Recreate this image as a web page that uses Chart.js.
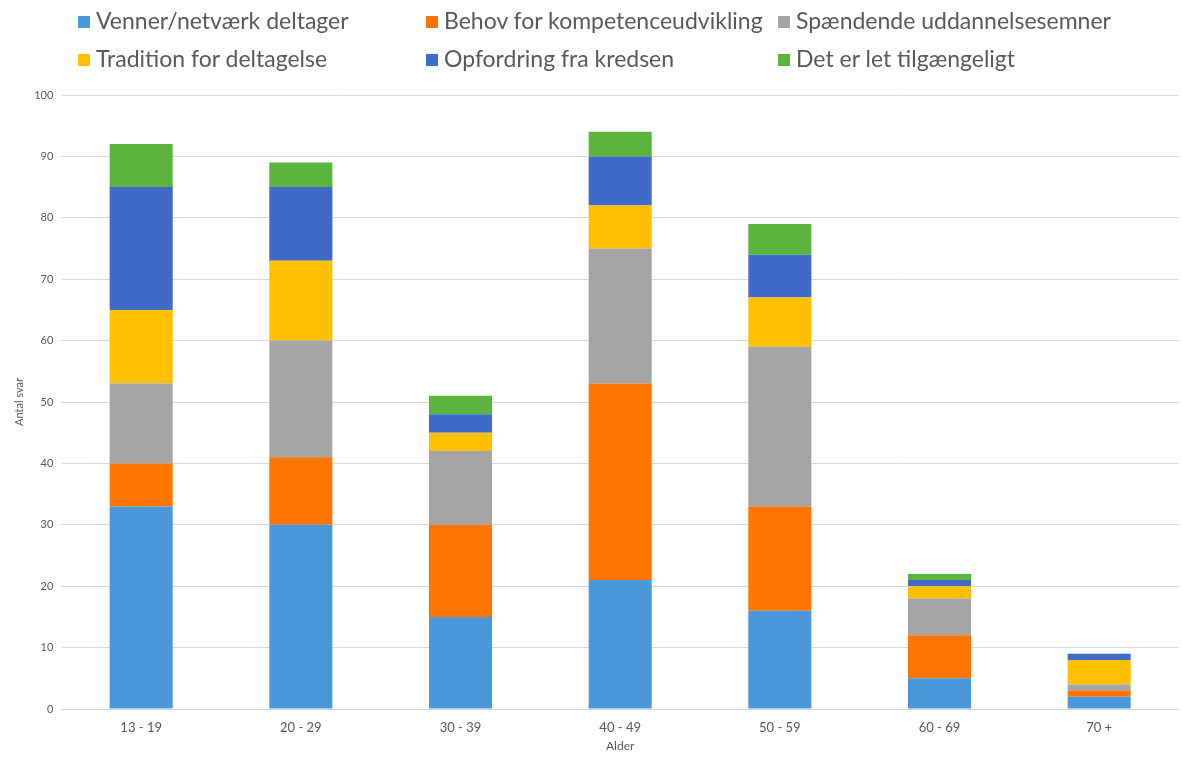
<!DOCTYPE html>
<html>
<head>
<meta charset="utf-8">
<script src="https://cdn.jsdelivr.net/npm/chart.js@4/dist/chart.umd.min.js"></script>
<style>
  html, body { margin: 0; padding: 0; background: #fff; }
  #wrap { position: relative; width: 1182px; height: 758px; }
  #legend { position: absolute; left: 0; top: 0; width: 1182px; height: 80px; font-family: Lato, sans-serif; font-size: 23px; color: #595959; }
  .item { position: absolute; white-space: nowrap; line-height: 24px; }
  .box { display: inline-block; width: 12px; height: 12px; margin-right: 6px; vertical-align: 1px; }
</style>
</head>
<body>
<div id="wrap">
  <canvas id="chart" width="1182" height="758"></canvas>
  <div id="legend"></div>
</div>
<script>
// ***** Data *****
const ageGroups = ['13 - 19', '20 - 29', '30 - 39', '40 - 49', '50 - 59', '60 - 69', '70 +'];
const seriesNames = [
  'Venner/netværk deltager',
  'Behov for kompetenceudvikling',
  'Spændende uddannelsesemner',
  'Tradition for deltagelse',
  'Opfordring fra kredsen',
  'Det er let tilgængeligt'
];
const venner = [33, 30, 15, 21, 16, 5, 2];
const behov = [7, 11, 15, 32, 17, 7, 1];
const spaendende = [13, 19, 12, 22, 26, 6, 1];
const tradition = [12, 13, 3, 7, 8, 2, 4];
const opfordring = [20, 12, 3, 8, 7, 1, 1];
const tilgaengeligt = [7, 4, 3, 4, 5, 1, 0];
const yTicks = [0, 10, 20, 30, 40, 50, 60, 70, 80, 90, 100];

const colors = ['#4A98DA', '#FF7500', '#A5A5A5', '#FFC000', '#3F6AC7', '#5BB43D'];
const seriesValues = [venner, behov, spaendende, tradition, opfordring, tilgaengeligt];
const textColor = '#595959';

// Legend positions (two rows, three columns like the original)
const legendPos = [
  [78, 8], [426, 8], [778, 8],
  [78, 46], [426, 46], [778, 46]
];

const legend = document.getElementById('legend');
seriesNames.forEach((name, i) => {
  const item = document.createElement('div');
  item.className = 'item';
  item.style.left = legendPos[i][0] + 'px';
  item.style.top = legendPos[i][1] + 'px';
  item.innerHTML = '<span class="box" style="background:' + colors[i] + '"></span>' + name;
  legend.appendChild(item);
});

const datasets = seriesNames.map((name, i) => ({
  label: name,
  data: seriesValues[i],
  backgroundColor: colors[i],
  borderWidth: 0,
  categoryPercentage: 1,
  barPercentage: 0.395
}));

const config = {
  type: 'bar',
  data: { labels: ageGroups, datasets: datasets },
  options: {
    responsive: false,
    animation: false,
    layout: { padding: { top: 95, right: 3, left: 13, bottom: 5 } },
    plugins: {
      legend: { display: false },
      tooltip: { enabled: false }
    },
    scales: {
      x: {
        stacked: true,
        grid: { display: false },
        border: { display: false },
        ticks: { color: textColor, font: { family: 'Lato', size: 13 }, padding: 3 },
        title: { display: true, text: 'Alder', color: textColor, font: { family: 'Lato', size: 12 }, padding: 0 }
      },
      y: {
        stacked: true,
        min: 0,
        max: 100,
        afterBuildTicks: (axis) => { axis.ticks = yTicks.map((v) => ({ value: v })); },
        grid: { color: '#D9D9D9', lineWidth: 1, drawTicks: false },
        border: { display: false },
        ticks: { color: textColor, font: { family: 'Lato', size: 11 }, padding: 8 },
        title: { display: true, text: 'Antal svar', color: textColor, font: { family: 'Lato', size: 11 }, padding: 0 }
      }
    }
  }
};

const chart = new Chart(document.getElementById('chart'), config);
</script>
</body>
</html>
